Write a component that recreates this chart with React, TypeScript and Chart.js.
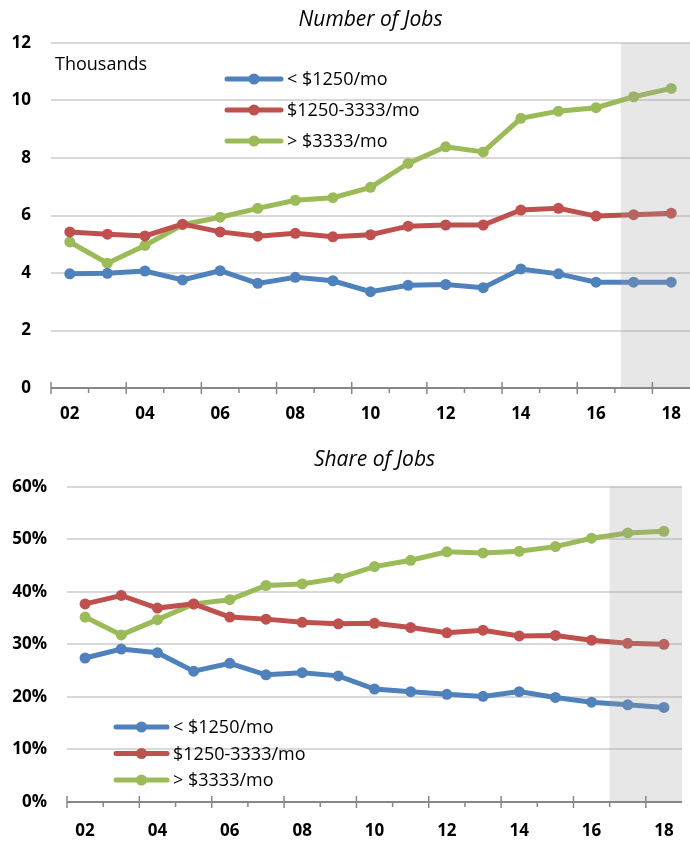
import { useEffect, useRef } from 'react';
import { Chart, registerables } from 'chart.js';
Chart.register(...registerables);

const years = ['02', '03', '04', '05', '06', '07', '08', '09', '10', '11', '12', '13', '14', '15', '16', '17', '18'];
const seriesLabels = ['< $1250/mo', '$1250-3333/mo', '> $3333/mo'];
const seriesColors = ['#4f81bd', '#c0504d', '#9bbb59'];

// Number of jobs (thousands)
const countLow = [3.97, 3.99, 4.07, 3.76, 4.08, 3.64, 3.85, 3.73, 3.35, 3.57, 3.6, 3.49, 4.14, 3.97, 3.68, 3.68, 3.68];
const countMid = [5.43, 5.35, 5.29, 5.7, 5.43, 5.28, 5.38, 5.26, 5.33, 5.63, 5.67, 5.67, 6.19, 6.25, 5.98, 6.03, 6.08];
const countHigh = [5.08, 4.34, 4.96, 5.68, 5.94, 6.25, 6.53, 6.62, 6.98, 7.81, 8.39, 8.21, 9.38, 9.63, 9.75, 10.13, 10.42];

// Share of jobs (%)
const shareLow = [27.4, 29.1, 28.4, 24.9, 26.4, 24.2, 24.6, 24.0, 21.5, 21.0, 20.5, 20.1, 21.0, 19.9, 19.0, 18.5, 18.0];
const shareMid = [37.7, 39.3, 36.9, 37.7, 35.2, 34.8, 34.2, 33.9, 34.0, 33.2, 32.2, 32.7, 31.6, 31.7, 30.8, 30.2, 30.0];
const shareHigh = [35.2, 31.8, 34.7, 37.7, 38.5, 41.2, 41.5, 42.6, 44.8, 46.0, 47.6, 47.4, 47.7, 48.6, 50.2, 51.2, 51.5];

const FONT = '"Open Sans", sans-serif';

type Cfg = {
  title: string;
  titleY: number;
  note?: { text: string; x: number; y: number };
  legend: { y: number; dy: number; lx0: number; lx1: number; tx: number };
  shadeStart: number;
  width: number;
  height: number;
  padTop: number;
  padRight: number;
  yWidth: number;
  xHeight: number;
  xPad: number;
  yMax: number;
  yStep: number;
  yFmt: (v: number) => string;
  data: number[][];
};

function decor(cfg: Cfg) {
  return {
    id: 'decor',
    afterDatasetsDraw(chart: any) {
      const { ctx, chartArea } = chart;
      const x = chart.scales.x;
      const f = Math.floor(cfg.shadeStart);
      const p0 = x.getPixelForValue(f);
      const p1 = x.getPixelForValue(f + 1);
      const sx = p0 + (cfg.shadeStart - f) * (p1 - p0);
      ctx.save();
      ctx.fillStyle = 'rgba(160,160,160,0.25)';
      ctx.fillRect(sx, chartArea.top, chartArea.right - sx, chartArea.bottom - chartArea.top);
      ctx.restore();
    },
    afterDraw(chart: any) {
      const { ctx, chartArea } = chart;
      const x = chart.scales.x;
      ctx.save();
      // axis line
      ctx.strokeStyle = '#878787';
      ctx.lineWidth = 2;
      ctx.beginPath();
      ctx.moveTo(chartArea.left, chartArea.bottom);
      ctx.lineTo(chartArea.right, chartArea.bottom);
      ctx.stroke();
      // ticks at category boundaries
      const step = x.getPixelForValue(1) - x.getPixelForValue(0);
      ctx.lineWidth = 1.5;
      for (let k = 0; k <= years.length; k++) {
        const bx = x.getPixelForValue(k) - step / 2;
        if (bx > chartArea.right - 1) break;
        ctx.beginPath();
        if (k % 2 === 0) {
          ctx.moveTo(bx, chartArea.bottom - 6);
          ctx.lineTo(bx, chartArea.bottom + 6);
        } else {
          ctx.moveTo(bx, chartArea.bottom);
          ctx.lineTo(bx, chartArea.bottom + 5);
        }
        ctx.stroke();
      }
      // title
      ctx.fillStyle = '#000';
      ctx.font = `italic 21px ${FONT}`;
      ctx.textAlign = 'center';
      ctx.textBaseline = 'middle';
      ctx.fillText(cfg.title, (chartArea.left + Math.min(chartArea.right, chart.width)) / 2, cfg.titleY);
      // note
      if (cfg.note) {
        ctx.font = `18px ${FONT}`;
        ctx.textAlign = 'left';
        ctx.fillText(cfg.note.text, cfg.note.x, cfg.note.y);
      }
      // legend
      const L = cfg.legend;
      chart.data.datasets.forEach((ds: any, i: number) => {
        const y = L.y + i * L.dy;
        ctx.strokeStyle = ds.borderColor;
        ctx.lineWidth = 5;
        ctx.lineCap = 'round';
        ctx.beginPath();
        ctx.moveTo(L.lx0, y);
        ctx.lineTo(L.lx1, y);
        ctx.stroke();
        ctx.fillStyle = ds.borderColor;
        ctx.beginPath();
        ctx.arc((L.lx0 + L.lx1) / 2, y, 5.5, 0, Math.PI * 2);
        ctx.fill();
        ctx.fillStyle = '#000';
        ctx.font = `18px ${FONT}`;
        ctx.textAlign = 'left';
        ctx.textBaseline = 'middle';
        ctx.fillText(ds.label, L.tx, y + 1);
      });
      ctx.restore();
    },
  };
}

function makeChart(canvas: HTMLCanvasElement, cfg: Cfg) {
  return new Chart(canvas, {
    type: 'line',
    data: {
      labels: years,
      datasets: cfg.data.map((d, i) => ({
        label: seriesLabels[i],
        data: d,
        borderColor: seriesColors[i],
        backgroundColor: seriesColors[i],
        borderWidth: 5,
        pointRadius: 5.5,
        pointBorderWidth: 0,
        pointBackgroundColor: seriesColors[i],
        tension: 0,
        fill: false,
        clip: false,
      })),
    },
    options: {
      responsive: false,
      animation: false,
      devicePixelRatio: 1,
      layout: { autoPadding: false, padding: { top: cfg.padTop, right: cfg.padRight, left: 0, bottom: 0 } },
      plugins: { legend: { display: false }, title: { display: false }, tooltip: { enabled: false } },
      scales: {
        x: {
          type: 'category',
          offset: true,
          grid: { display: false, drawTicks: false, offset: true },
          border: { display: false },
          afterFit: (s: any) => {
            s.height = cfg.xHeight;
            s.paddingLeft = 0;
            s.paddingRight = 0;
          },
          ticks: {
            autoSkip: false,
            maxRotation: 0,
            padding: cfg.xPad,
            color: '#000',
            font: { family: FONT, size: 17, weight: 'bold' },
            callback: (_v: any, i: number) => (i % 2 === 0 ? years[i] : ''),
          },
        },
        y: {
          min: 0,
          max: cfg.yMax,
          grid: {
            drawTicks: false,
            lineWidth: 2,
            color: (c: any) => (c.tick && c.tick.value === 0 ? 'rgba(0,0,0,0)' : '#d9d9d9'),
          },
          border: { display: false },
          afterFit: (s: any) => { s.width = cfg.yWidth; },
          ticks: {
            stepSize: cfg.yStep,
            padding: 20,
            color: '#000',
            font: { family: FONT, size: 17, weight: 'bold' },
            callback: (v: any) => cfg.yFmt(Number(v)),
          },
        },
      },
    },
    plugins: [decor(cfg)],
  } as any);
}

const topCfg: Cfg = {
  title: 'Number of Jobs',
  titleY: 20,
  note: { text: 'Thousands', x: 55, y: 65 },
  legend: { y: 79, dy: 31, lx0: 227, lx1: 281, tx: 287 },
  shadeStart: 14.66,
  width: 690,
  height: 430,
  padTop: 43,
  padRight: -3,
  yWidth: 51,
  xHeight: 42,
  xPad: 16,
  yMax: 12,
  yStep: 2,
  yFmt: (v) => String(v),
  data: [countLow, countMid, countHigh],
};

const bottomCfg: Cfg = {
  title: 'Share of Jobs',
  titleY: 30,
  legend: { y: 297, dy: 26.5, lx0: 116, lx1: 167, tx: 173 },
  shadeStart: 14.5,
  width: 690,
  height: 411,
  padTop: 56.7,
  padRight: 8,
  yWidth: 67,
  xHeight: 39,
  xPad: 19,
  yMax: 60,
  yStep: 10,
  yFmt: (v) => `${Math.round(v)}%`,
  data: [shareLow, shareMid, shareHigh],
};

export default function App() {
  const topRef = useRef<HTMLCanvasElement>(null);
  const botRef = useRef<HTMLCanvasElement>(null);
  useEffect(() => {
    const a = makeChart(topRef.current!, topCfg);
    const b = makeChart(botRef.current!, bottomCfg);
    return () => {
      a.destroy();
      b.destroy();
    };
  }, []);
  return (
    <div style={{ position: 'absolute', left: 0, top: 0, width: 690, height: 841, background: '#fff' }}>
      <canvas ref={topRef} width={topCfg.width} height={topCfg.height} style={{ display: 'block', width: 690, height: topCfg.height }} />
      <canvas ref={botRef} width={bottomCfg.width} height={bottomCfg.height} style={{ display: 'block', width: 690, height: bottomCfg.height }} />
    </div>
  );
}
